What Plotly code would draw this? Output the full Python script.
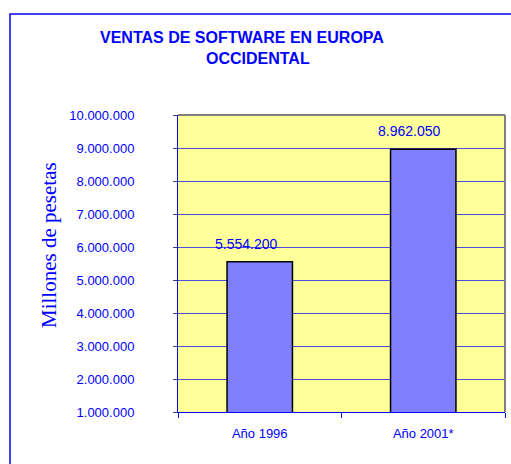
import plotly.graph_objects as go

categories = ["Año 1996", "Año 2001*"]
values = [5554200, 8962050]
y_ticks = [1000000, 2000000, 3000000, 4000000, 5000000, 6000000, 7000000, 8000000, 9000000, 10000000]

def fmt(v):
    return f"{v:,}".replace(",", ".")

BLUE = "#0000ff"
fig = go.Figure()
fig.add_trace(go.Bar(
    x=categories, y=values, width=0.4,
    marker=dict(color="#8080ff", line=dict(color="#000000", width=1.5)),
    hoverinfo="skip",
))
for c, v in zip(categories, values):
    fig.add_annotation(x=c, y=v, text=fmt(v), showarrow=False, yshift=18, xshift=-14,
                       font=dict(family="Arial, Liberation Sans", size=14, color=BLUE))

fig.update_layout(
    width=511, height=464,
    margin=dict(l=178, r=6, t=115, b=52),
    paper_bgcolor="white", plot_bgcolor="#ffff99",
    separators=",.",
    showlegend=False,
    font=dict(family="Arial, Liberation Sans", color=BLUE, size=13),
)
fig.update_yaxes(
    range=[1000000, 10000000], tickvals=y_ticks, ticktext=[fmt(t) for t in y_ticks],
    showgrid=True, gridcolor="#5050e0", gridwidth=1,
    showline=True, linecolor=BLUE, linewidth=1,
    ticks="outside", ticklen=4, tickcolor="#404080",
    ticklabelstandoff=36, zeroline=False,
    tickfont=dict(size=13, color=BLUE),
)
fig.update_xaxes(
    showline=True, linecolor=BLUE, linewidth=1,
    ticks="outside", ticklen=5, tickcolor=BLUE, tickson="boundaries",
    tickfont=dict(size=13, color=BLUE), ticklabelstandoff=9,
)
# plot border (top/right gray)
fig.add_shape(type="line", xref="paper", yref="paper", x0=0, x1=1, y0=1, y1=1,
              line=dict(color="#808080", width=2))
fig.add_shape(type="line", xref="paper", yref="paper", x0=1, x1=1, y0=0, y1=1,
              line=dict(color="#808080", width=2))
# outer chart border
fig.add_shape(type="rect", xref="paper", yref="paper",
              x0=(10 - 178) / 327, x1=(520 - 178) / 327,
              y0=(412 - 470) / 297, y1=(412 - 14) / 297,
              line=dict(color=BLUE, width=1.5), layer="below")
# titles
fig.add_annotation(text="<b>VENTAS DE SOFTWARE EN EUROPA</b>", xref="paper", yref="paper",
                   x=(242 - 178) / 327, y=(412 - 37) / 297, showarrow=False,
                   xanchor="center", yanchor="middle",
                   font=dict(family="Arial, Liberation Sans", size=16, color=BLUE))
fig.add_annotation(text="<b>OCCIDENTAL</b>", xref="paper", yref="paper",
                   x=(258 - 178) / 327, y=(412 - 59) / 297, showarrow=False,
                   xanchor="center", yanchor="middle",
                   font=dict(family="Arial, Liberation Sans", size=16, color=BLUE))
fig.add_annotation(text="Millones de pesetas", xref="paper", yref="paper",
                   x=(49 - 178) / 327, y=(412 - 245) / 297, showarrow=False,
                   textangle=-90, xanchor="center", yanchor="middle",
                   font=dict(family="Liberation Serif, Times New Roman", size=21, color=BLUE))

fig.write_html("out.html", config={"displayModeBar": False},
               post_script="document.body.style.margin='0';")
